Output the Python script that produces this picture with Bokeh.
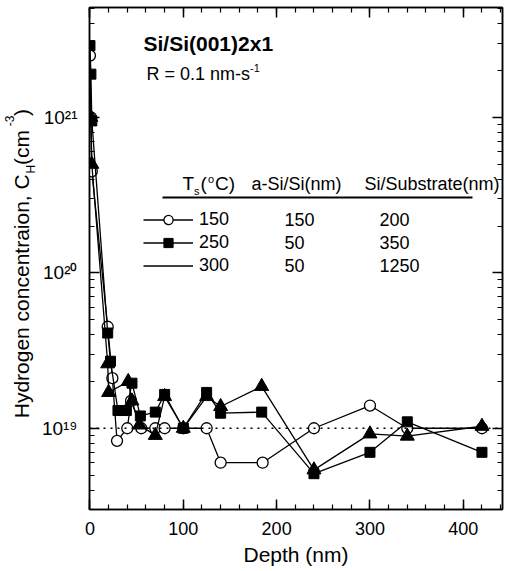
import math
from bokeh.plotting import figure
from bokeh.layouts import row
from bokeh.models import (Range1d, FixedTicker, LinearAxis, LogAxis, Span, Label,
                          Legend, LegendItem, BoxAnnotation, CustomJSTickFormatter)
from bokeh.embed import file_html
from bokeh.resources import INLINE

# ---------------- data ----------------
depth_150 = [0, 1, 2, 19, 24, 29, 40, 44, 55, 70, 80, 100, 125, 140, 185, 240, 300, 340, 420]
conc_150 = [2.5e21, 1.0e21, 4.5e20, 4.5e19, 2.1e19, 8.3e18, 1.0e19, 1.5e19, 1.0e19, 1.0e19,
            1.0e19, 1.0e19, 1.0e19, 6.0e18, 6.0e18, 1.0e19, 1.4e19, 1.0e19, 1.0e19]

depth_250 = [0, 1, 2, 19, 22, 30, 39, 45, 54, 70, 80, 100, 125, 140, 184, 240, 300, 340, 420]
conc_250 = [2.9e21, 1.9e21, 9.5e20, 4.1e19, 2.7e19, 1.3e19, 1.3e19, 1.95e19, 1.2e19, 1.27e19,
            1.65e19, 1.0e19, 1.7e19, 1.25e19, 1.27e19, 5.1e18, 7.0e18, 1.1e19, 7.0e18]

depth_300 = [1, 2, 19, 20, 41, 45, 53, 70, 80, 100, 125, 140, 184, 240, 300, 340, 420]
conc_300 = [1.0e21, 5.0e20, 2.6e19, 1.7e19, 2.0e19, 1.5e19, 1.05e19, 9.0e18, 1.6e19, 1.0e19,
            1.6e19, 1.38e19, 1.86e19, 5.4e18, 9.2e18, 8.9e18, 1.03e19]

legend_ts = ["150", "250", "300"]
legend_asi = ["150", "50", "50"]
legend_sub = ["200", "350", "1250"]

x_major_ticks = [0, 100, 200, 300, 400]
y_major_exponents = [19, 20, 21]
y_tick_labels = ["10\u00b9\u2079", "10\u00b2\u2070", "10\u00b2\u00b9"]
reference_level = 1e19

# ---------------- layout constants ----------------
FONT = "Liberation Sans"
CW, CH = 506, 569                        # total canvas size
LW = 37                                  # width of the strip holding the y title
FL, FT, FW, FH = 89, 7, 413, 502          # plot frame in page pixels
XMIN, XMAX = -0.5, 442
YMIN, YMAX = 3.0e18, 5.1e21
MID = 0.3465                             # baseline - middle distance, in em

W = {' ': 278, '(': 333, ')': 333, '-': 333, '.': 278, ',': 278, '/': 278, '=': 584, '°': 400,
     'C': 722, 'H': 722, 'R': 722, 'S': 667, 'T': 611, 'D': 722,
     'a': 556, 'b': 556, 'c': 500, 'd': 556, 'e': 556, 'g': 556, 'h': 556, 'i': 222,
     'm': 833, 'n': 556, 'o': 556, 'p': 556, 'r': 333, 's': 500, 't': 278, 'u': 556,
     'x': 500, 'y': 500}


def tw(text, size):
    return sum(W.get(c, 556) for c in text) / 1000.0 * size


def dx(wx):
    return XMIN + (wx - FL) / FW * (XMAX - XMIN)


def dy(wy):
    lo, hi = math.log10(YMIN), math.log10(YMAX)
    return 10 ** (hi - (wy - FT) / FH * (hi - lo))


p = figure(width=CW - LW, height=CH,
           x_range=Range1d(XMIN, XMAX), y_range=Range1d(YMIN, YMAX),
           y_axis_type="log", output_backend="svg", toolbar_location=None,
           min_border_left=FL - LW, min_border_right=CW - FL - FW, min_border_top=FT,
           min_border_bottom=CH - FT - FH,
           background_fill_color="white", border_fill_color="white")
p.grid.visible = False
p.outline_line_color = "black"
p.outline_line_width = 1.5

xticker = FixedTicker(ticks=x_major_ticks, minor_ticks=list(range(0, 441, 20)))
yticker = FixedTicker(ticks=[10.0 ** e for e in y_major_exponents],
                      minor_ticks=[k * 10.0 ** e for e in range(18, 22) for k in range(2, 10)])

blank = CustomJSTickFormatter(code="return '';")


def style_axis(ax, labels=True):
    ax.axis_line_color = "black"
    ax.axis_line_width = 1.5
    ax.major_tick_in = 10
    ax.major_tick_out = 0
    ax.minor_tick_in = 5
    ax.minor_tick_out = 0
    ax.major_tick_line_width = 1.5
    ax.minor_tick_line_width = 1.2
    ax.major_tick_line_color = "black"
    ax.minor_tick_line_color = "black"
    ax.major_label_text_font = FONT
    ax.major_label_text_color = "black"
    if not labels:
        ax.formatter = blank
        ax.major_label_text_font_size = "1px"
        ax.major_label_standoff = 0


xa = p.xaxis[0]
xa.ticker = xticker
style_axis(xa)
xa.major_label_text_font_size = "18px"
xa.major_label_standoff = 12
xa.axis_label = "Depth (nm)"
xa.axis_label_text_font = FONT
xa.axis_label_text_font_size = "21px"
xa.axis_label_text_font_style = "normal"
xa.axis_label_text_color = "black"
xa.axis_label_standoff = 5

ya = p.yaxis[0]
ya.ticker = yticker
style_axis(ya)
ya.formatter = CustomJSTickFormatter(
    args=dict(exps=y_major_exponents, labels=y_tick_labels),
    code="const e = Math.round(Math.log10(tick)); const i = exps.indexOf(e); return i >= 0 ? labels[i] : '';")
ya.major_label_text_font_size = "19px"
ya.major_label_standoff = 12

top = LinearAxis(ticker=xticker)
style_axis(top, labels=False)
p.add_layout(top, "above")
right = LogAxis(ticker=yticker)
style_axis(right, labels=False)
p.add_layout(right, "right")

p.add_layout(Span(location=reference_level, dimension="width", line_color="black",
                  line_width=1.5, line_dash="2 5"))

# ---------------- series ----------------
l150 = p.line(depth_150, conc_150, line_color="black", line_width=1.3)
s150 = p.scatter(depth_150, conc_150, marker="circle", size=11, fill_color="white",
                 line_color="black", line_width=1.3)
l250 = p.line(depth_250, conc_250, line_color="black", line_width=1.3)
s250 = p.scatter(depth_250, conc_250, marker="square", size=10, fill_color="black",
                 line_color="black", line_width=1)
l300 = p.line(depth_300, conc_300, line_color="black", line_width=1.3)
s300 = p.scatter(depth_300, conc_300, marker="triangle", size=14, fill_color="black",
                 line_color="black", line_width=1)


def add_text(text, wx, wy, size, bold=False, align="left"):
    p.add_layout(Label(x=dx(wx), y=dy(wy), text=text, text_font=FONT,
                       text_font_size=f"{size}px",
                       text_font_style="bold" if bold else "normal",
                       text_align=align, text_baseline="middle",
                       text_color="black"))


def add_base(text, wx, base, size):
    # place text by its baseline (converted to the middle of the text box)
    add_text(text, wx, base - MID * size, size)


# titles
add_text("Si/Si(001)2x1", 143, 43, 21, bold=True)
add_text("R = 0.1 nm-s", 146, 73, 18)
add_text("-1", 146 + tw("R = 0.1 nm-s", 18), 67, 11)

# table columns of the legend
row_y = [219, 242, 265]
for i in range(3):
    add_text(legend_asi[i], 284, row_y[i], 18)
    add_text(legend_sub[i], 379, row_y[i], 18)

# header of the legend table
hb = 190
x0 = 182
add_base("T", x0, hb, 19)
x0 += tw("T", 19)
add_base("s", x0, hb + 4, 11)
x0 += tw("s", 11) + 1
add_base("(", x0, hb, 19)
x0 += tw("(", 19) + 1
add_base("o", x0, hb - 8, 11)
x0 += tw("o", 11) + 1
add_base("C)", x0, hb, 19)
add_base("a-Si/Si(nm)", 251, hb, 18)
add_base("Si/Substrate(nm)", 364, hb, 18)
p.add_layout(BoxAnnotation(left=dx(162), right=dx(472), top=dy(196), bottom=dy(198),
                           fill_color="black", fill_alpha=1, line_alpha=0))

legend = Legend(items=[LegendItem(label=legend_ts[0], renderers=[l150, s150]),
                       LegendItem(label=legend_ts[1], renderers=[l250, s250]),
                       LegendItem(label=legend_ts[2], renderers=[l300])],
                location=(143 - FL, round(FT + FH - (row_y[0] - 11.5 + 69))),
                padding=0, margin=0, spacing=0,
                glyph_width=50, glyph_height=23, label_height=23, label_standoff=6,
                label_text_font=FONT, label_text_font_size="18px", label_text_color="black",
                background_fill_alpha=0, border_line_alpha=0)
p.add_layout(legend)

# ---------------- strip with the rotated y title ----------------
q = figure(width=LW, height=CH, x_range=Range1d(0, LW), y_range=Range1d(0, CH),
           output_backend="svg", toolbar_location=None,
           x_axis_location=None, y_axis_location=None,
           min_border_left=0, min_border_right=0, min_border_top=0, min_border_bottom=0,
           background_fill_color="white", border_fill_color="white")
q.grid.visible = False
q.outline_line_color = None


def add_ytitle(text, base_x, wy, size, align="left"):
    # rotated text reading upwards; its baseline lies at base_x
    q.add_layout(Label(x=base_x - MID * size, y=CH - wy, text=text, text_font=FONT,
                       text_font_size=f"{size}px", text_align=align, text_baseline="middle",
                       angle=math.pi / 2, text_color="black"))


yb = 28
main_text = "Hydrogen concentraion, C"
ys = 433 - tw(main_text, 21)            # where the main part ends (C_H junction)
add_ytitle(main_text, yb, ys, 21, align="right")
ys -= 1
add_ytitle("H", yb + 7, ys, 12)
ys -= tw("H", 12) + 1
add_ytitle(" (cm", yb, ys, 21)
ys -= tw(" (cm", 21) + 3
add_ytitle("-3", yb - 15, ys, 12)
ys -= tw("-3", 12) + 1
add_ytitle(")", yb, ys, 21)

layout = row(q, p, spacing=0)

with open("out.html", "w", encoding="utf-8") as f:
    f.write(file_html(layout, INLINE))
